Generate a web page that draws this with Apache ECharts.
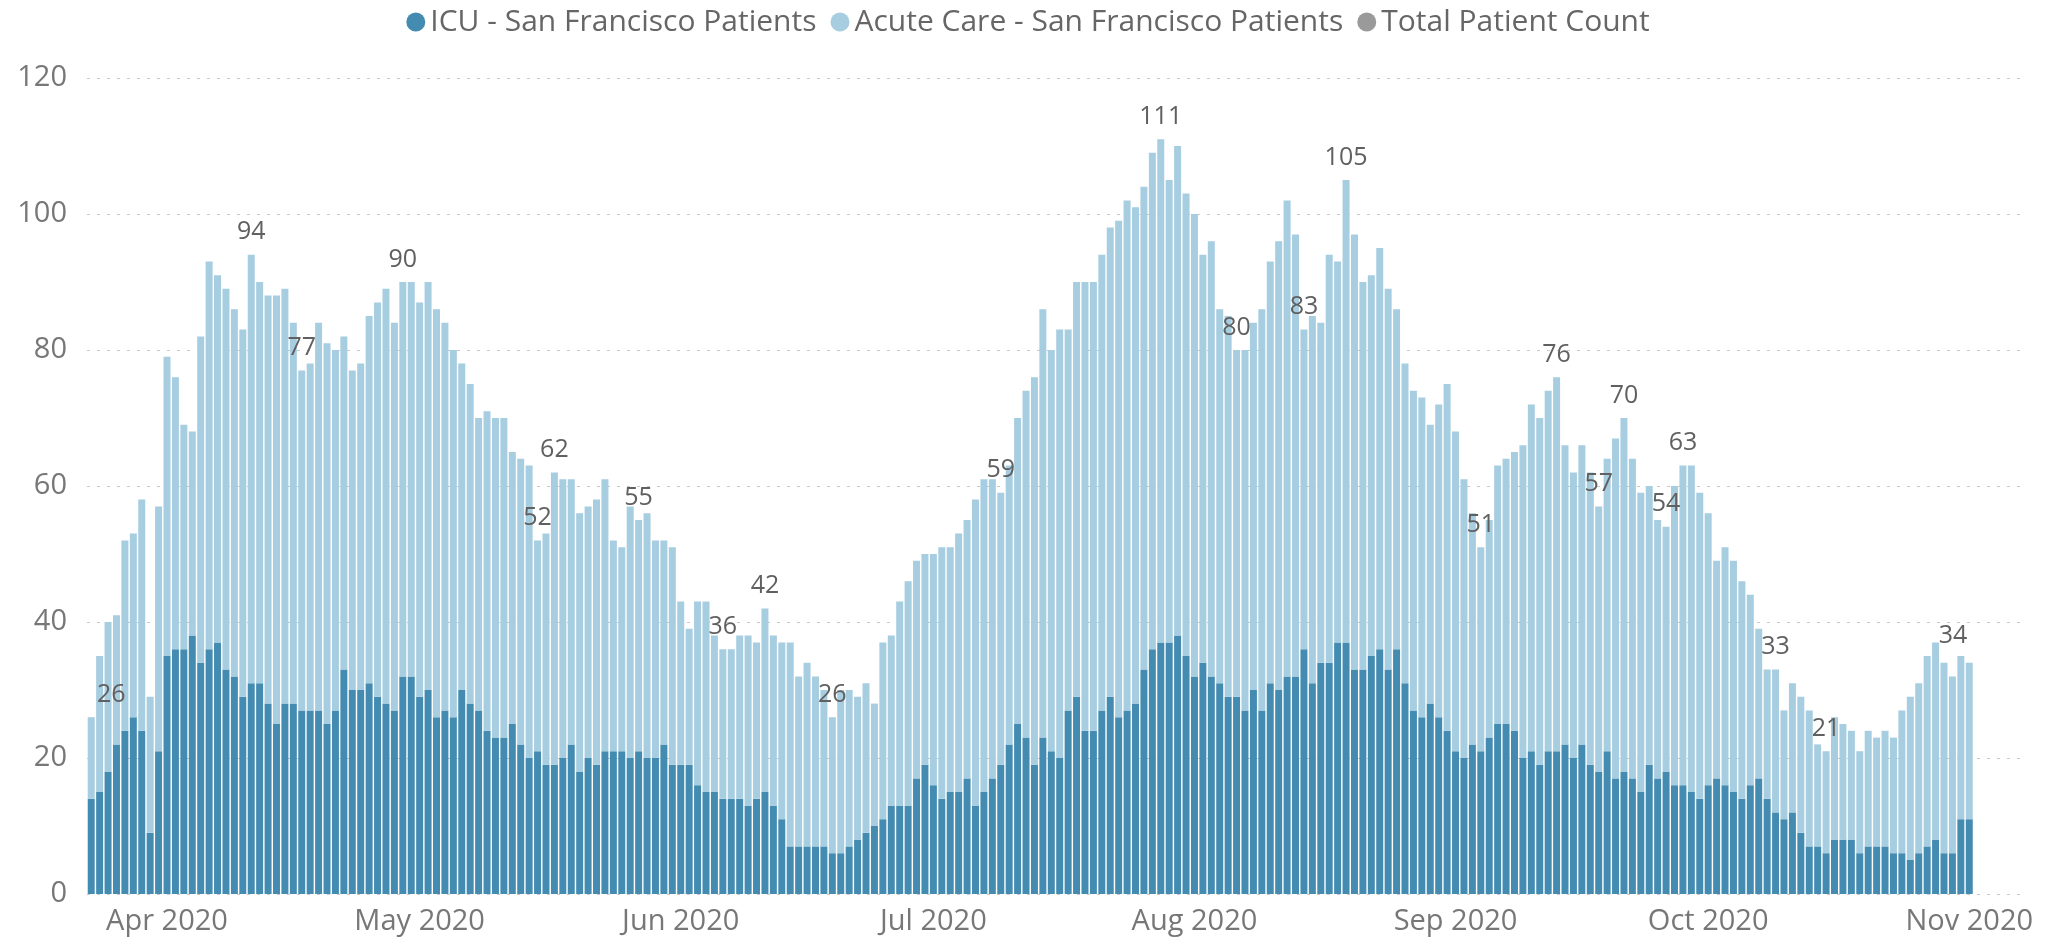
<!DOCTYPE html>
<html>
<head>
<meta charset="utf-8">
<title>San Francisco COVID-19 hospitalizations</title>
<script src="https://cdn.jsdelivr.net/npm/echarts@6.0.0/dist/echarts.min.js"></script>
<style>
    html, body { margin: 0; padding: 0; background: #fff; }
    .chart { width: 2056px; height: 940px; }
</style>
</head>
<body>
<div class="chart"></div>
<script>
// daily values, first bar = 23 Mar 2020, last bar = 1 Nov 2020
const dayCount = 230; // 224 days with data, axis runs a few days further
const monthNames = ['Jan', 'Feb', 'Mar', 'Apr', 'May', 'Jun', 'Jul', 'Aug', 'Sep', 'Oct', 'Nov', 'Dec'];

const icuPatients = [
    14, 15, 18, 22, 24, 26, 24, 9, 21, 35,
    36, 36, 38, 34, 36, 37, 33, 32, 29, 31,
    31, 28, 25, 28, 28, 27, 27, 27, 25, 27,
    33, 30, 30, 31, 29, 28, 27, 32, 32, 29,
    30, 26, 27, 26, 30, 28, 27, 24, 23, 23,
    25, 22, 20, 21, 19, 19, 20, 22, 18, 20,
    19, 21, 21, 21, 20, 21, 20, 20, 22, 19,
    19, 19, 16, 15, 15, 14, 14, 14, 13, 14,
    15, 13, 11, 7, 7, 7, 7, 7, 6, 6,
    7, 8, 9, 10, 11, 13, 13, 13, 17, 19,
    16, 14, 15, 15, 17, 13, 15, 17, 19, 22,
    25, 23, 19, 23, 21, 20, 27, 29, 24, 24,
    27, 29, 26, 27, 28, 33, 36, 37, 37, 38,
    35, 32, 34, 32, 31, 29, 29, 27, 30, 27,
    31, 30, 32, 32, 36, 31, 34, 34, 37, 37,
    33, 33, 35, 36, 33, 36, 31, 27, 26, 28,
    26, 24, 21, 20, 22, 21, 23, 25, 25, 24,
    20, 21, 19, 21, 21, 22, 20, 22, 19, 18,
    21, 17, 18, 17, 15, 19, 17, 18, 16, 16,
    15, 14, 16, 17, 16, 15, 14, 16, 17, 14,
    12, 11, 12, 9, 7, 7, 6, 8, 8, 8,
    6, 7, 7, 7, 6, 6, 5, 6, 7, 8,
    6, 6, 11, 11
];

const totalPatients = [
    26, 35, 40, 41, 52, 53, 58, 29, 57, 79,
    76, 69, 68, 82, 93, 91, 89, 86, 83, 94,
    90, 88, 88, 89, 84, 77, 78, 84, 81, 80,
    82, 77, 78, 85, 87, 89, 84, 90, 90, 87,
    90, 86, 84, 80, 78, 75, 70, 71, 70, 70,
    65, 64, 63, 52, 53, 62, 61, 61, 56, 57,
    58, 61, 52, 51, 57, 55, 56, 52, 52, 51,
    43, 39, 43, 43, 38, 36, 36, 38, 38, 37,
    42, 38, 37, 37, 32, 34, 32, 30, 26, 30,
    30, 29, 31, 28, 37, 38, 43, 46, 49, 50,
    50, 51, 51, 53, 55, 58, 61, 61, 59, 63,
    70, 74, 76, 86, 80, 83, 83, 90, 90, 90,
    94, 98, 99, 102, 101, 104, 109, 111, 105, 110,
    103, 100, 94, 96, 86, 85, 80, 80, 84, 86,
    93, 96, 102, 97, 83, 85, 84, 94, 93, 105,
    97, 90, 91, 95, 89, 86, 78, 74, 73, 69,
    72, 75, 68, 61, 56, 51, 55, 63, 64, 65,
    66, 72, 70, 74, 76, 66, 62, 66, 62, 57,
    64, 67, 70, 64, 59, 60, 55, 54, 60, 63,
    63, 59, 56, 49, 51, 49, 46, 44, 39, 33,
    33, 27, 31, 29, 27, 22, 21, 26, 25, 24,
    21, 24, 23, 24, 23, 27, 29, 31, 35, 37,
    34, 32, 35, 34
];

// days (0-based) that carry a total label
const labeledDays = [0, 19, 25, 37, 53, 55, 65, 75, 80, 88, 108, 127, 136, 144, 149, 165, 174, 179, 182, 187, 189, 200, 206, 220];

(function () {
    let myChart = echarts.init(document.querySelector('.chart'));
    let font = "'Segoe UI', 'Open Sans', sans-serif";

    // category list, one per day
    let days = [];
    for (let i = 0; i < dayCount; i++) {
        days.push(new Date(Date.UTC(2020, 2, 23 + i)).toISOString().slice(0, 10));
    }

    // labels near the plot edges are pushed inwards
    let labelOffsets = { 0: [20, 0], 220: [9, -4] };

    // acute care = what sits on top of the ICU bar
    let acuteItems = totalPatients.map(function (t, i) {
        let item = { value: t - icuPatients[i] };
        if (labeledDays.indexOf(i) !== -1) {
            item.label = { show: true, formatter: String(t), offset: labelOffsets[i] || [0, 0] };
        }
        return item;
    });

    let option = {
        animation: false,
        color: ['#438bb1', '#a7cde0', '#9a9a9a'],
        textStyle: { fontFamily: font },
        legend: {
            top: 2,
            left: 'center',
            icon: 'circle',
            itemWidth: 19,
            itemHeight: 19,
            itemGap: 14,
            textStyle: { fontSize: 30, color: '#666', fontFamily: font },
            data: ['ICU - San Francisco Patients', 'Acute Care - San Francisco Patients', 'Total Patient Count']
        },
        grid: {
            left: 87,
            right: 32,
            top: 78,
            bottom: 46,
            containLabel: false,
            outerBoundsMode: 'none'
        },
        xAxis: {
            type: 'category',
            data: days,
            axisLine: { show: false },
            axisTick: { show: false },
            axisLabel: {
                // only the first day of each month
                interval: function (index, value) {
                    return value.slice(8) === '01';
                },
                formatter: function (value) {
                    return monthNames[+value.slice(5, 7) - 1] + ' ' + value.slice(0, 4);
                },
                color: '#777',
                fontSize: 29,
                margin: 13,
                fontFamily: font
            }
        },
        yAxis: {
            type: 'value',
            min: 0,
            max: 120,
            interval: 20,
            axisLine: { show: false },
            axisTick: { show: false },
            axisLabel: { color: '#777', fontSize: 29, margin: 20, fontFamily: font },
            splitLine: {
                lineStyle: { color: '#c8c8c8', width: 1, type: [3, 7] }
            }
        },
        series: [
            {
                name: 'ICU - San Francisco Patients',
                type: 'bar',
                stack: 'patients',
                barCategoryGap: '17%',
                data: icuPatients
            },
            {
                name: 'Acute Care - San Francisco Patients',
                type: 'bar',
                stack: 'patients',
                barCategoryGap: '17%',
                data: acuteItems,
                label: {
                    show: false,
                    position: 'top',
                    distance: 10,
                    color: '#606060',
                    fontSize: 25,
                    fontFamily: font
                }
            },
            {
                // legend entry only, totals are shown as labels on the bars
                name: 'Total Patient Count',
                type: 'line',
                data: []
            }
        ]
    };

    myChart.setOption(option);
    window.addEventListener('resize', function () {
        myChart.resize();
    });
})();
</script>
</body>
</html>
